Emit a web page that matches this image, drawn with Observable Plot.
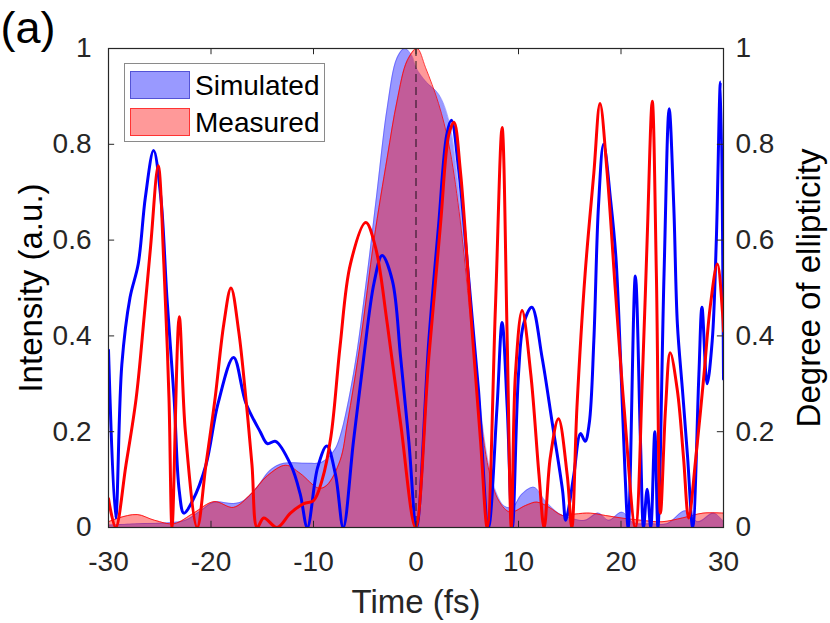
<!DOCTYPE html>
<html>
<head>
<meta charset="utf-8">
<script src="https://cdn.jsdelivr.net/npm/d3@7"></script>
<script src="https://cdn.jsdelivr.net/npm/@observablehq/plot@0.6"></script>
<style>
  html, body { margin: 0; padding: 0; background: #fff; }
  #wrap { position: relative; width: 830px; height: 623px; font-family: "Liberation Sans", Arial, Helvetica, sans-serif; }
  #legend { position: absolute; left: 124px; top: 63px; width: 201px; height: 79px; border: 1.5px solid #8a8a8a; background: #fff; box-sizing: border-box; }
  .sw { position: absolute; left: 5px; width: 60px; height: 28px; box-sizing: border-box; }
  .lab { position: absolute; left: 70px; font-size: 28px; line-height: 28px; color: #000; white-space: nowrap; }
</style>
</head>
<body>
<div id="wrap"></div>
<script>
// ---------- data ----------
const xTicks = [-30, -20, -10, 0, 10, 20, 30];
const xTickLabels = ["-30", "-20", "-10", "0", "10", "20", "30"];
const yTicks = [0, 0.2, 0.4, 0.6, 0.8, 1];
const yTickLabels = ["0", "0.2", "0.4", "0.6", "0.8", "1"];
const seriesNames = ["Simulated", "Measured"];

// Simulated intensity (blue filled area): [time fs, intensity]
const simIntensity = [
  [-30, 0.005], [-27, 0.008], [-24, 0.01], [-22.5, 0.015], [-21, 0.035], [-19.7, 0.053],
  [-17.8, 0.05], [-16.8, 0.056], [-15.5, 0.084], [-14.2, 0.12], [-12.9, 0.134], [-10.6, 0.134],
  [-9.2, 0.136], [-8, 0.16], [-7.4, 0.19], [-6.1, 0.32], [-4.75, 0.53], [-3.8, 0.70],
  [-2.8, 0.877], [-1.85, 0.98], [-1.1, 1.0], [-0.4, 0.985], [0, 0.96], [1.0, 0.93],
  [2.2, 0.905], [3.2, 0.85], [4.2, 0.70], [5.15, 0.495], [6.1, 0.286],
  [6.95, 0.147], [7.75, 0.077], [8.6, 0.045], [9.4, 0.042], [10.35, 0.07], [11.5, 0.084],
  [12.6, 0.056], [13.9, 0.03], [15.2, 0.019], [16.5, 0.015], [17.8, 0.03], [18.8, 0.015],
  [20.1, 0.032], [21.2, 0.01], [23, 0.008], [24.5, 0.008], [26.3, 0.035], [27.5, 0.012],
  [29.05, 0.03], [30, 0.012]
];

// Measured intensity (red filled area)
const measIntensity = [
  [-30, 0.012], [-29, 0.02], [-27.2, 0.027], [-25.5, 0.015], [-23.6, 0.008], [-21.7, 0.03],
  [-19.7, 0.054], [-17.8, 0.042], [-16.1, 0.07], [-14.5, 0.108], [-12.7, 0.13], [-11.3, 0.113],
  [-9.5, 0.082], [-8.7, 0.088], [-7.4, 0.14], [-6.7, 0.217], [-5.4, 0.39], [-4.1, 0.6],
  [-2.8, 0.773], [-1.85, 0.89], [-0.85, 0.975], [0.1, 1.0], [0.93, 0.96], [2.2, 0.885],
  [3.2, 0.80], [4.2, 0.66], [5.15, 0.47], [6.1, 0.27], [7.1, 0.12], [8.1, 0.055],
  [9.2, 0.032], [10.7, 0.046], [11.8, 0.053], [13.0, 0.042], [14.3, 0.025], [15.5, 0.028],
  [17, 0.03], [18.5, 0.025], [20, 0.02], [22, 0.015], [24, 0.012], [26, 0.02], [28, 0.03], [30, 0.03]
];

// Simulated degree of ellipticity (blue line)
const simEllipticity = [
  [-30, 0.37], [-29.3, 0.02], [-28.7, 0.34], [-27.9, 0.48], [-27.1, 0.55], [-26.4, 0.69],
  [-25.6, 0.787], [-24.9, 0.69], [-24.3, 0.48], [-23.6, 0.27], [-23.1, 0.077], [-22.65, 0.03],
  [-21.8, 0.056], [-20.5, 0.13], [-19.3, 0.26], [-17.8, 0.355], [-16.6, 0.26], [-15.2, 0.2],
  [-14.5, 0.175], [-13.7, 0.18], [-12.2, 0.13], [-11.3, 0.07], [-10.6, 0.0], [-9.6, 0.125],
  [-8.7, 0.17], [-7.85, 0.11], [-7.1, 0.0], [-6.1, 0.18], [-5.1, 0.355], [-4.1, 0.51],
  [-3.3, 0.568], [-2.3, 0.515], [-1.5, 0.355], [-0.7, 0.18], [0.05, 0.0], [1.25, 0.39],
  [2.2, 0.63], [3.0, 0.82], [3.45, 0.85], [4.15, 0.75], [5.1, 0.53], [6.1, 0.286],
  [7.07, 0.0], [7.9, 0.25], [8.4, 0.428], [8.9, 0.25], [9.4, 0.0], [10.0, 0.32],
  [10.5, 0.425], [11.3, 0.46], [12.3, 0.355], [13.3, 0.217], [14.3, 0.077], [14.6, 0.015],
  [14.85, 0.035], [15.4, 0.11], [16.05, 0.196], [16.5, 0.18], [16.9, 0.217], [17.35, 0.39],
  [17.8, 0.67], [18.3, 0.80], [19.0, 0.68], [19.5, 0.565], [19.95, 0.355], [20.4, 0.11],
  [20.7, 0.0], [21.4, 0.525], [21.9, 0.18], [22.2, 0.0], [22.55, 0.08], [22.9, 0.0],
  [23.3, 0.2], [23.6, 0.0], [24.2, 0.53], [24.7, 0.874], [25.15, 0.67], [25.5, 0.425],
  [26.0, 0.286], [26.5, 0.146], [27.0, 0.0], [27.6, 0.32], [27.9, 0.46], [28.4, 0.30],
  [28.9, 0.39], [29.3, 0.6], [29.7, 0.93], [30, 0.31]
];

// Measured degree of ellipticity (red line)
const measEllipticity = [
  [-30, 0.06], [-29.3, 0.0], [-28.3, 0.13], [-27.3, 0.27], [-26.5, 0.445], [-25.9, 0.585],
  [-25.15, 0.755], [-24.6, 0.55], [-24.1, 0.27], [-23.8, 0.0], [-23.1, 0.44], [-22.5, 0.2],
  [-21.35, 0.0], [-20.5, 0.13], [-19.6, 0.27], [-18.75, 0.425], [-18.05, 0.5], [-17.3, 0.41],
  [-16.6, 0.27], [-16.0, 0.13], [-15.5, 0.0], [-14.85, 0.02], [-13.55, 0.0], [-12.25, 0.03],
  [-10.95, 0.05], [-10.0, 0.056], [-9.15, 0.1], [-8.3, 0.19], [-7.4, 0.38], [-6.4, 0.55],
  [-4.9, 0.637], [-3.95, 0.585], [-2.8, 0.425], [-1.5, 0.217], [-0.05, 0.0], [1.25, 0.355],
  [2.4, 0.635], [3.2, 0.82], [3.7, 0.846], [4.35, 0.74], [5.3, 0.46], [6.3, 0.18],
  [6.95, 0.0], [7.75, 0.46], [8.4, 0.835], [8.9, 0.39], [9.3, 0.0], [9.7, 0.32],
  [10.35, 0.453], [11.2, 0.32], [12.0, 0.11], [12.5, 0.0], [13.1, 0.146], [13.9, 0.227],
  [14.75, 0.11], [15.2, 0.0], [15.7, 0.25], [16.5, 0.53], [17.35, 0.74], [17.95, 0.885],
  [18.65, 0.74], [19.45, 0.495], [20.3, 0.25], [21.4, 0.0], [22.1, 0.32], [22.55, 0.6],
  [23.05, 0.89], [23.45, 0.53], [23.85, 0.03], [24.35, 0.25], [24.8, 0.365], [25.5, 0.286],
  [26.1, 0.146], [26.6, 0.02], [27.3, 0.146], [28.1, 0.32], [28.7, 0.46], [29.4, 0.55],
  [29.9, 0.45], [30, 0.41]
];

// ---------- chart ----------
const T = d => d[0], V = d => d[1];
const ink = "#262626";
const font = "Liberation Sans, Arial, Helvetica, sans-serif";

const chart = Plot.plot({
  width: 830,
  height: 623,
  marginLeft: 108,
  marginRight: 107,
  marginTop: 48,
  marginBottom: 96,
  x: {domain: [-30, 30], axis: null},
  y: {domain: [0, 1], axis: null},
  style: {fontFamily: font, background: "#fff", overflow: "visible", color: ink},
  marks: [
    Plot.areaY(simIntensity, {x: T, y: V, fill: "#0000ff", fillOpacity: 0.4, curve: "catmull-rom", clip: true}),
    Plot.lineY(simIntensity, {x: T, y: V, stroke: "#0000ff", strokeOpacity: 0.3, strokeWidth: 1, curve: "catmull-rom", clip: true}),
    Plot.areaY(measIntensity, {x: T, y: V, fill: "#ff0000", fillOpacity: 0.4, curve: "catmull-rom", clip: true}),
    Plot.lineY(measIntensity, {x: T, y: V, stroke: "#ff0000", strokeOpacity: 0.8, strokeWidth: 1, curve: "catmull-rom", clip: true}),
    Plot.ruleX([0], {stroke: "#000", strokeOpacity: 0.42, strokeWidth: 2, strokeDasharray: "8,5"}),
    Plot.lineY(simEllipticity, {x: T, y: V, stroke: "#0000ff", strokeWidth: 3, curve: "catmull-rom", clip: true}),
    Plot.lineY(measEllipticity, {x: T, y: V, stroke: "#ff0000", strokeWidth: 3, curve: "catmull-rom", clip: true}),
    Plot.frame({stroke: ink, strokeWidth: 1.2}),
    // inward ticks
    Plot.ruleX(xTicks, {x: d => d, y1: 0, y2: 0.013, stroke: ink}),
    Plot.ruleX(xTicks, {x: d => d, y1: 1, y2: 0.987, stroke: ink}),
    Plot.ruleY(yTicks, {y: d => d, x1: -30, x2: -29.4, stroke: ink}),
    Plot.ruleY(yTicks, {y: d => d, x1: 30, x2: 29.4, stroke: ink}),
    // tick labels
    Plot.text(xTicks, {x: d => d, text: (d, i) => xTickLabels[i], frameAnchor: "bottom", lineAnchor: "middle", dy: 35, fontSize: 28, fill: ink}),
    Plot.text(yTicks, {y: d => d, text: (d, i) => yTickLabels[i], frameAnchor: "left", lineAnchor: "middle", dx: -17, textAnchor: "end", fontSize: 28, fill: ink}),
    Plot.text(yTicks, {y: d => d, text: (d, i) => yTickLabels[i], frameAnchor: "right", lineAnchor: "middle", dx: 12, textAnchor: "start", fontSize: 28, fill: ink}),
    // axis titles
    Plot.text(["Time (fs)"], {frameAnchor: "bottom", lineAnchor: "middle", textAnchor: "middle", dy: 75, fontSize: 33, fill: ink}),
    Plot.text(["Intensity (a.u.)"], {frameAnchor: "left", lineAnchor: "middle", textAnchor: "middle", dx: -77, rotate: -90, fontSize: 33, fill: "#000"}),
    Plot.text(["Degree of ellipticity"], {frameAnchor: "right", lineAnchor: "middle", textAnchor: "middle", dx: 86, rotate: -90, fontSize: 33, fill: "#000"}),
    Plot.text(["(a)"], {frameAnchor: "top-left", lineAnchor: "middle", dx: -108, dy: -20, textAnchor: "start", fontSize: 45, fill: "#000"})
  ]
});

const wrap = document.getElementById("wrap");
wrap.appendChild(chart);

// legend
const legend = document.createElement("div");
legend.id = "legend";
const swatchStyles = [
  {bg: "rgba(0,0,255,0.4)", border: "rgba(60,60,200,0.75)"},
  {bg: "rgba(255,0,0,0.4)", border: "rgba(255,40,40,0.9)"}
];
seriesNames.forEach((name, i) => {
  const sw = document.createElement("div");
  sw.className = "sw";
  sw.style.top = (i === 0 ? 7 : 44) + "px";
  sw.style.background = swatchStyles[i].bg;
  sw.style.border = "1.5px solid " + swatchStyles[i].border;
  legend.appendChild(sw);
  const lab = document.createElement("div");
  lab.className = "lab";
  lab.style.top = (i === 0 ? 8 : 45) + "px";
  lab.textContent = name;
  legend.appendChild(lab);
});
wrap.appendChild(legend);
</script>
</body>
</html>
